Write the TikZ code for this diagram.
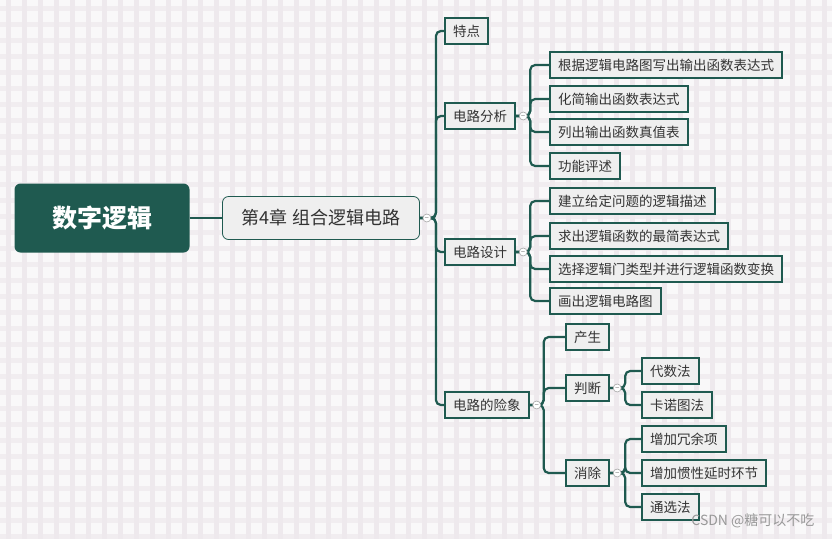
\documentclass[tikz,border=0pt]{standalone}
\usepackage{fontspec}
\setmainfont{Noto Sans CJK SC}
\definecolor{dg}{HTML}{1F5A50}
\definecolor{tx}{HTML}{333333}
\definecolor{bx}{HTML}{EFEFEF}
\definecolor{bg}{HTML}{F9F8F9}
\definecolor{gl}{HTML}{EEE9ED}
\begin{document}
\begin{tikzpicture}[x=1pt,y=-1pt,
  leaf/.style={draw=dg,line width=2.2pt,fill=bx,text=tx,anchor=west,minimum height=26pt,inner xsep=8pt,font=\fontsize{13.5}{16}\selectfont},
  conn/.style={draw=dg,line width=2.2pt,rounded corners=5pt},
  tog/.style={circle,draw=gray!70,fill=white,minimum size=8pt,inner sep=0pt,line width=0.6pt}]
\fill[bg] (0,0) rectangle (832,539);
\begin{scope}
\clip (0,0) rectangle (832,539);
\foreach \i in {0,16,...,832} \draw[gl,line width=5pt] (\i+8,0) -- (\i+8,539);
\foreach \j in {0,16,...,539} \draw[gl,line width=5pt,opacity=0.7] (0,\j+8) -- (832,\j+8);
\end{scope}
\useasboundingbox (0,0) rectangle (832,539);

\node[fill=dg,rounded corners=6pt,minimum width=175pt,minimum height=69pt,text=white,font=\fontsize{25}{28}\selectfont\bfseries] (root) at (102,218) {数字逻辑};
\node[draw=dg,line width=0.8pt,fill=bx,rounded corners=6pt,minimum width=197pt,minimum height=43pt,text=tx,font=\fontsize{18}{22}\selectfont] (ch) at (321,218) {第4章 组合逻辑电路};
\draw[conn] (root.east) -- (ch.west);

\node[leaf] (a) at (444,31) {特点};
\node[leaf] (b) at (444,116) {电路分析};
\node[leaf] (c) at (444,252) {电路设计};
\node[leaf] (d) at (444,405) {电路的险象};

\node[leaf] (b1) at (549,65) {根据逻辑电路图写出输出函数表达式};
\node[leaf] (b2) at (549,99) {化简输出函数表达式};
\node[leaf] (b3) at (549,132) {列出输出函数真值表};
\node[leaf] (b4) at (549,166) {功能评述};

\node[leaf] (c1) at (549,201) {建立给定问题的逻辑描述};
\node[leaf] (c2) at (549,236) {求出逻辑函数的最简表达式};
\node[leaf] (c3) at (549,269) {选择逻辑门类型并进行逻辑函数变换};
\node[leaf] (c4) at (549,301) {画出逻辑电路图};

\node[leaf] (d1) at (565,337) {产生};
\node[leaf] (d2) at (565,388) {判断};
\node[leaf] (d3) at (565,473) {消除};

\node[leaf] (e1) at (641,371) {代数法};
\node[leaf] (e2) at (641,405) {卡诺图法};
\node[leaf] (f1) at (641,439) {增加冗余项};
\node[leaf] (f2) at (641,473) {增加惯性延时环节};
\node[leaf] (f3) at (641,507) {通选法};

\foreach \t in {a,b,c,d} \draw[conn] (ch.east) -- ([xshift=16pt]ch.east) |- (\t.west);
\foreach \t in {b1,b2,b3,b4} \draw[conn] (b.east) -- ([xshift=14pt]b.east) |- (\t.west);
\foreach \t in {c1,c2,c3,c4} \draw[conn] (c.east) -- ([xshift=14pt]c.east) |- (\t.west);
\foreach \t in {d1,d2,d3} \draw[conn] (d.east) -- ([xshift=14pt]d.east) |- (\t.west);
\foreach \t in {e1,e2} \draw[conn] (d2.east) -- ([xshift=15pt]d2.east) |- (\t.west);
\foreach \t in {f1,f2,f3} \draw[conn] (d3.east) -- ([xshift=15pt]d3.east) |- (\t.west);

\foreach \p in {ch,b,c,d,d2,d3} \node[tog] (t\p) at ([xshift=7pt]\p.east) {\tiny$-$};

\node[text=gray!80,font=\fontsize{14}{16}\selectfont,anchor=east] (wm) at (818,521) {CSDN @糖可以不吃};
\end{tikzpicture}
\end{document}
